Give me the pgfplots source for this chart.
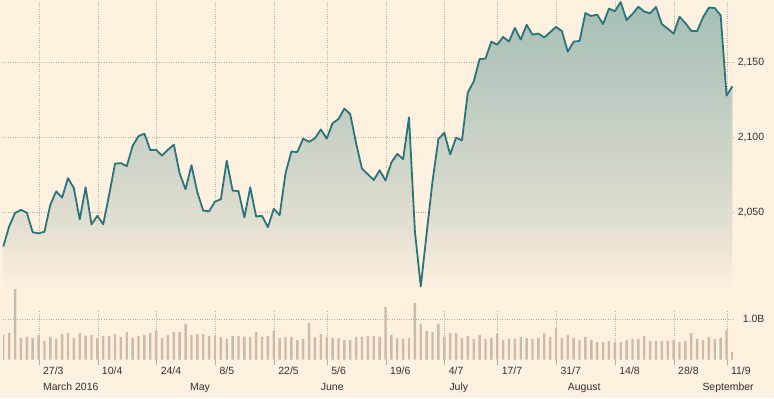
\documentclass[border=0pt]{standalone}
\usepackage{pgfplots}
\pgfplotsset{compat=1.18}
\usepackage{pgfplotstable}
\usepackage{fontspec}
\setmainfont{Liberation Sans}

\definecolor{ftbg}{HTML}{FFF1E0}
\definecolor{ftline}{HTML}{29757A}
\definecolor{ftvol}{HTML}{CDBBA8}
\definecolor{ftgrid}{HTML}{B8AB9C}
\definecolor{fttext}{HTML}{33302E}
\definecolor{fadetop}{RGB}{165,190,181}
\definecolor{fademid}{RGB}{221,220,207}
\pgfdeclareverticalshading{areafade}{100bp}{color(0bp)=(ftbg); color(28bp)=(ftbg); color(40.9bp)=(fademid); color(75bp)=(fadetop); color(100bp)=(fadetop)}

% trading day index, close, volume (bn)
\pgfplotstableread{
i p v
0 2027.22 0.61
1 2040.59 0.66
2 2049.58 1.74
3 2051.60 0.53
4 2049.80 0.56
5 2036.71 0.53
6 2035.94 0.61
7 2037.05 0.46
8 2055.01 0.56
9 2063.95 0.51
10 2059.74 0.63
11 2072.78 0.66
12 2066.13 0.53
13 2045.17 0.66
14 2066.66 0.59
15 2041.91 0.61
16 2047.60 0.53
17 2041.99 0.58
18 2061.72 0.58
19 2082.42 0.63
20 2082.78 0.56
21 2080.73 0.68
22 2094.34 0.53
23 2100.80 0.58
24 2102.40 0.61
25 2091.48 0.66
26 2091.58 0.71
27 2087.79 0.53
28 2091.70 0.61
29 2095.15 0.68
30 2075.81 0.68
31 2065.30 0.88
32 2081.43 0.61
33 2063.37 0.63
34 2051.12 0.63
35 2050.63 0.58
36 2057.14 0.58
37 2058.69 0.56
38 2084.39 0.51
39 2064.46 0.58
40 2064.11 0.58
41 2046.61 0.56
42 2066.66 0.56
43 2047.21 0.68
44 2047.63 0.56
45 2040.04 0.58
46 2052.32 0.71
47 2048.04 0.53
48 2076.06 0.56
49 2090.54 0.56
50 2090.10 0.48
51 2099.06 0.51
52 2096.95 0.90
53 2099.33 0.56
54 2105.26 0.63
55 2099.13 0.57
56 2109.41 0.53
57 2112.13 0.53
58 2119.12 0.48
59 2115.48 0.48
60 2096.07 0.56
61 2079.06 0.56
62 2075.32 0.58
63 2071.50 0.58
64 2077.99 0.56
65 2071.22 1.30
66 2083.25 0.61
67 2088.90 0.53
68 2085.45 0.51
69 2113.32 0.53
70 2037.41 1.39
71 2000.54 0.88
72 2036.09 0.71
73 2070.77 0.68
74 2098.86 0.88
75 2102.95 0.57
76 2088.55 0.66
77 2099.73 0.66
78 2097.90 0.53
79 2129.90 0.58
80 2137.16 0.51
81 2152.14 0.61
82 2152.43 0.51
83 2163.75 0.53
84 2161.74 0.64
85 2166.89 0.48
86 2163.78 0.51
87 2173.02 0.51
88 2165.17 0.56
89 2175.03 0.53
90 2168.48 0.51
91 2169.18 0.53
92 2166.58 0.66
93 2170.06 0.56
94 2173.60 0.79
95 2170.84 0.53
96 2157.03 0.61
97 2163.79 0.53
98 2164.25 0.48
99 2182.87 0.56
100 2180.89 0.48
101 2181.74 0.43
102 2175.49 0.43
103 2185.79 0.46
104 2184.05 0.43
105 2190.15 0.43
106 2178.15 0.48
107 2182.22 0.51
108 2187.02 0.51
109 2183.87 0.58
110 2182.64 0.46
111 2186.90 0.46
112 2175.44 0.46
113 2172.47 0.46
114 2169.04 0.48
115 2180.38 0.43
116 2176.12 0.46
117 2170.95 0.66
118 2170.86 0.51
119 2179.98 0.48
120 2186.48 0.56
121 2186.16 0.51
122 2181.30 0.53
123 2127.81 0.73
124 2134.00 0.19
}\sp

\pgfplotsset{
  every tick label/.append style={font=\fontsize{10.5}{12}\selectfont, text=fttext},
  ftgridstyle/.style={draw=ftgrid, line width=0.8bp, dash pattern=on 0.8bp off 1.6bp},
}

\begin{document}
\begin{tikzpicture}[x=1bp,y=1bp]
\fill[ftbg] (0,0) rectangle (774,398);
\useasboundingbox (0,0) rectangle (774,398);

% price panel
\begin{axis}[
  at={(3bp,38bp)}, anchor=south west,
  scale only axis, width=730bp, height=360bp,
  xmin=-0.05, xmax=124.1, ymin=1951.53, ymax=2191.53,
  axis line style={draw=none},
  xtick={6.1,16.1,26.1,36.1,46.1,55.1,65.1,75.1,84.1,94.1,104.1,114.1,123.1},
  xticklabel=\empty,
  ytick={2050,2100,2150}, yticklabels={{2,050},{2,100},{2,150}},
  yticklabel pos=right,
  major tick length=0,
  grid=major, grid style={ftgridstyle},
  yticklabel style={anchor=base west, inner sep=0pt, xshift=4.7bp, yshift=-3.7bp},
  clip=false,
]
\addplot[draw=none, shading=areafade] table[x=i,y=p]{\sp}
  -- (axis cs:124,1984.9) -- (axis cs:0,1984.9) -- cycle;
\addplot[ftline, line width=1.8bp, line join=round] table[x=i,y=p]{\sp};
\end{axis}

% volume panel
\begin{axis}[
  at={(3bp,38.3bp)}, anchor=south west,
  scale only axis, width=730bp, height=81.4bp,
  xmin=-0.05, xmax=124.1, ymin=0, ymax=2,
  axis line style={draw=none},
  xtick={6.1,16.1,26.1,36.1,46.1,55.1,65.1,75.1,84.1,94.1,104.1,114.1,123.1},
  xticklabels={27/3,10/4,24/4,8/5,22/5,5/6,19/6,4/7,17/7,31/7,14/8,28/8,11/9},
  xtick pos=left, tick align=outside,
  major tick length=5bp,
  xtick style={draw=ftgrid, solid, line width=0.8bp},
  ytick={1}, yticklabels={1.0B}, yticklabel pos=right,
  ytick style={draw=none},
  ymajorgrids, grid style={ftgridstyle},
  xticklabel style={anchor=base west, inner sep=0pt, xshift=3.8bp, yshift=-10bp},
  yticklabel style={anchor=base west, inner sep=0pt, xshift=4.7bp, yshift=-3.7bp},
]
\addplot[ybar, bar width=2.4bp, fill=ftvol, draw=none] table[x=i,y=v]{\sp};
\end{axis}

\begin{scope}[every node/.style={anchor=base west, inner sep=0pt, font=\fontsize{10.5}{12}\selectfont, text=fttext}]
\node at (43,7.3) {March 2016};
\node at (190,7.3) {May};
\node at (320.7,7.3) {June};
\node at (449.3,7.3) {July};
\node at (567.7,7.3) {August};
\node at (702.3,7.3) {September};
\end{scope}
\end{tikzpicture}
\end{document}
